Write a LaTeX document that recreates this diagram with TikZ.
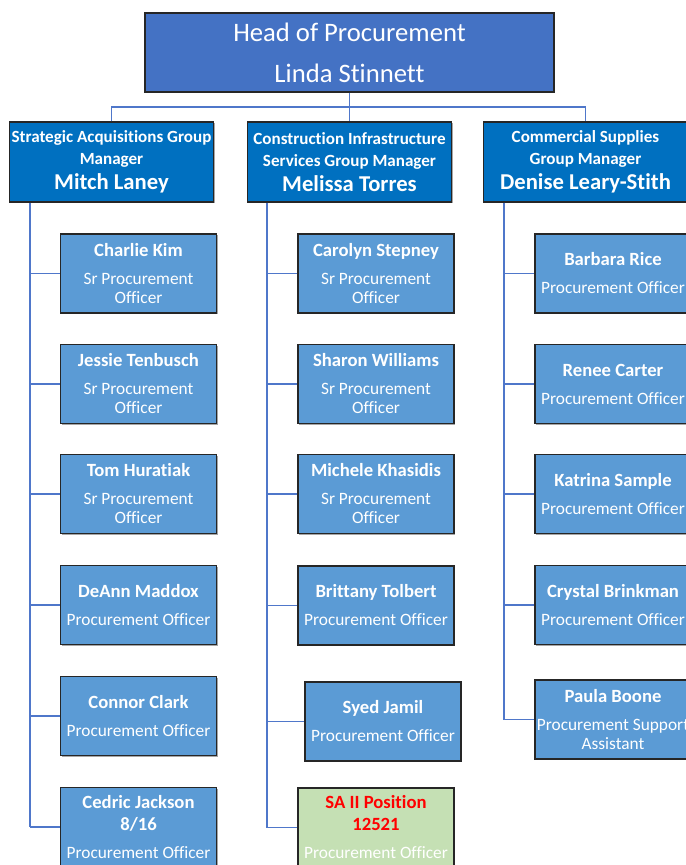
\documentclass[tikz,border=0pt]{standalone}
\usepackage{fontspec}
\setmainfont{Carlito}[Ligatures=NoCommon]
\usetikzlibrary{shadows}
\definecolor{headblue}{HTML}{4472C4}
\definecolor{mgrblue}{HTML}{0070C0}
\definecolor{staffblue}{HTML}{5B9BD5}
\definecolor{vacantgreen}{HTML}{C5E0B4}
\definecolor{linkblue}{HTML}{4F77CA}
\newcommand{\who}[1]{{\bfseries\fontsize{14}{14.25}\selectfont #1}}

\begin{document}
\begin{tikzpicture}[x=0.75pt,y=-0.75pt,
    box/.style={draw=black!85,line width=1.1pt,inner sep=0pt,align=center,text=white,
        drop shadow={shadow xshift=0.8pt,shadow yshift=-0.8pt,fill=black!35,opacity=1}},
    headbox/.style={box,fill=headblue,minimum width=306.75pt,minimum height=59.25pt,
        font=\fontsize{20}{30.75}\selectfont},
    mgrbox/.style={box,fill=mgrblue,minimum width=153pt,minimum height=60pt,
        font=\bfseries\fontsize{12.8}{16.5}\selectfont},
    staffbox/.style={box,fill=staffblue,minimum width=117pt,minimum height=59.25pt,
        font=\fontsize{13}{14.25}\selectfont},
    link/.style={draw=linkblue,line width=1.3pt}]
                \useasboundingbox (0,0) rectangle (686,865);
                \clip (0,0) rectangle (686,865);
                % head and group managers
                \node [headbox] (head) at (349.5,52.5) {Head of Procurement\\Linda Stinnett};
                \node [mgrbox] (mgrA) at (111.5,162) {Strategic Acquisitions Group\\Manager\\[2.25pt]{\fontsize{17}{18}\selectfont Mitch Laney}};
                \node [mgrbox] (mgrB) at (349.5,162) {Construction Infrastructure\\Services Group Manager\\[2.25pt]{\fontsize{17}{18}\selectfont Melissa Torres}};
                \node [mgrbox] (mgrC) at (585.5,162) {Commercial Supplies\\Group Manager\\[2.25pt]{\fontsize{17}{18}\selectfont Denise Leary-Stith}};
                \coordinate (bus) at (349.5,107);
                \draw [link] (head.south) -- (head.south |- mgrB.north);
                \draw [link] (mgrA.north) -- (mgrA.north |- bus) -- (mgrC.north |- bus) -- (mgrC.north);
                % strategic acquisitions
                \node [staffbox] (charlie) at (138.5,273.5) {\who{Charlie Kim}\\[6.75pt]Sr Procurement\\Officer};
                \node [staffbox] (jessie) at (138.5,384) {\who{Jessie Tenbusch}\\[6.75pt]Sr Procurement\\Officer};
                \node [staffbox] (tom) at (138.5,494) {\who{Tom Huratiak}\\[6.75pt]Sr Procurement\\Officer};
                \node [staffbox] (deann) at (138.5,605) {\who{DeAnn Maddox}\\[6.75pt]Procurement Officer};
                \node [staffbox] (connor) at (138.5,716) {\who{Connor Clark}\\[6.75pt]Procurement Officer};
                \node [staffbox] (cedric) at (138.5,827) {\who{Cedric Jackson}\\[2.25pt]\who{8/16}\\[6.75pt]Procurement Officer};
                % construction infrastructure
                \node [staffbox] (carolyn) at (376,273.5) {\who{Carolyn Stepney}\\[6.75pt]Sr Procurement\\Officer};
                \node [staffbox] (sharon) at (376,384) {\who{Sharon Williams}\\[6.75pt]Sr Procurement\\Officer};
                \node [staffbox] (michele) at (376,494) {\who{Michele Khasidis}\\[6.75pt]Sr Procurement\\Officer};
                \node [staffbox] (brittany) at (376,605.5) {\who{Brittany Tolbert}\\[6.75pt]Procurement Officer};
                \node [staffbox] (syed) at (383,721.5) {\who{Syed Jamil}\\[6.75pt]Procurement Officer};
                \node [staffbox,fill=vacantgreen] (vacant) at (376,827.5) {\textcolor{red}{\who{SA II Position}}\\[2.25pt]\textcolor{red}{\who{12521}}\\[6.75pt]Procurement Officer};
                % commercial supplies
                \node [staffbox] (barbara) at (613,273.5) {\who{Barbara Rice}\\[6.75pt]Procurement Officer};
                \node [staffbox] (renee) at (613,384) {\who{Renee Carter}\\[6.75pt]Procurement Officer};
                \node [staffbox] (katrina) at (613,494) {\who{Katrina Sample}\\[6.75pt]Procurement Officer};
                \node [staffbox] (crystal) at (613,605) {\who{Crystal Brinkman}\\[6.75pt]Procurement Officer};
                \node [staffbox] (paula) at (613,719.5) {\who{Paula Boone}\\[6.75pt]Procurement Support\\Assistant};
                % spines
                \coordinate (spineA) at (30,0);
                \coordinate (spineB) at (267,0);
                \coordinate (spineC) at (504,0);
                \draw [link] (spineA |- mgrA.south) -- (spineA |- cedric.west);
                \draw [link] (spineB |- mgrB.south) -- (spineB |- vacant.west);
                \draw [link] (spineC |- mgrC.south) -- (spineC |- paula.west);
                \draw [link] (spineA |- charlie.west) -- (charlie.west);
                \draw [link] (spineA |- jessie.west) -- (jessie.west);
                \draw [link] (spineA |- tom.west) -- (tom.west);
                \draw [link] (spineA |- deann.west) -- (deann.west);
                \draw [link] (spineA |- connor.west) -- (connor.west);
                \draw [link] (spineA |- cedric.west) -- (cedric.west);
                \draw [link] (spineB |- carolyn.west) -- (carolyn.west);
                \draw [link] (spineB |- sharon.west) -- (sharon.west);
                \draw [link] (spineB |- michele.west) -- (michele.west);
                \draw [link] (spineB |- brittany.west) -- (brittany.west);
                \draw [link] (spineB |- syed.west) -- (syed.west);
                \draw [link] (spineB |- vacant.west) -- (vacant.west);
                \draw [link] (spineC |- barbara.west) -- (barbara.west);
                \draw [link] (spineC |- renee.west) -- (renee.west);
                \draw [link] (spineC |- katrina.west) -- (katrina.west);
                \draw [link] (spineC |- crystal.west) -- (crystal.west);
                \draw [link] (spineC |- paula.west) -- (paula.west);
            \end{tikzpicture}
\end{document}
